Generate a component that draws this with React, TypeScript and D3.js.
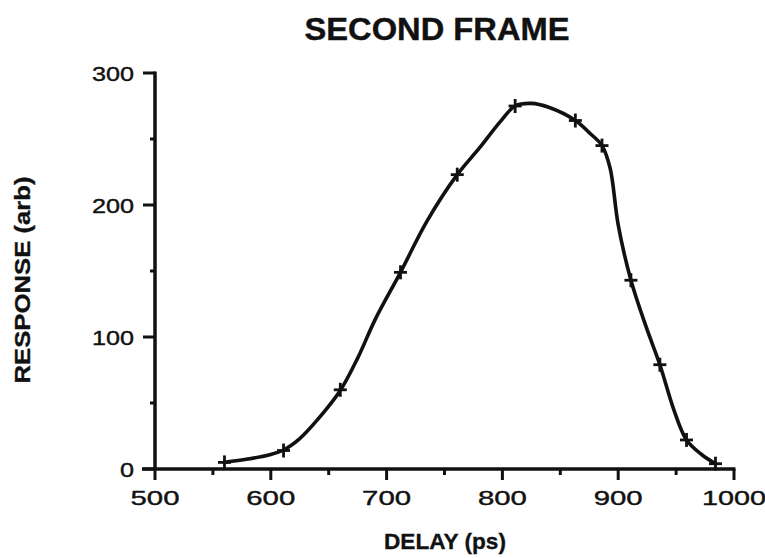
import React from 'react';
import * as d3 from 'd3';

const title = 'SECOND FRAME';
const xLabel = 'DELAY (ps)';
const yLabel = 'RESPONSE (arb)';

const xTicks = [500, 600, 700, 800, 900, 1000];
const xMinorTicks = [550, 650, 750, 850, 950];
const yTicks = [0, 100, 200, 300];
const yMinorTicks = [50, 150, 250];

// measured points (+ markers)
const markerDelay = [560, 611, 660, 712, 761, 811, 863, 886, 911, 936, 959, 984];
const markerResponse = [5, 14, 60, 149, 223, 275, 264, 245, 143, 79, 22, 4];

// traced response curve
const traceDelay = [560, 580, 600, 611, 625, 640, 660, 675, 690, 712, 735, 761, 780, 798, 811, 825, 840, 863, 876, 886, 893, 900, 911, 924, 936, 948, 959, 972, 984];
const traceResponse = [5, 7.5, 11, 14.4, 23, 37, 59.5, 84, 113, 149, 188, 223, 243, 263, 275, 277, 274, 264, 254, 245, 228, 185, 143, 108, 79, 45, 22, 11, 4];

export default function App() {
  const W = 765, H = 558;
  const x = d3.scaleLinear().domain([500, 1000]).range([155, 734]);
  const y = d3.scaleLinear().domain([0, 300]).range([469, 73]);
  const pts: [number, number][] = traceDelay.map((d, i) => [d, traceResponse[i]]);
  const line = d3.line<[number, number]>().x(d => x(d[0])).y(d => y(d[1])).curve(d3.curveCatmullRom.alpha(0.5));
  const font = '"Liberation Sans", Arial, Helvetica, sans-serif';
  const ink = '#111';
  return (
    <svg width={W} height={H} style={{ position: 'absolute', left: 0, top: 0, background: '#fff' }} fontFamily={font}>
      <rect x={0} y={0} width={W} height={H} fill="#fff" />
      <text x={437} y={40} textAnchor="middle" fontSize={31} fontWeight="bold" fill={ink} stroke={ink} strokeWidth={0.4} textLength={265} lengthAdjust="spacingAndGlyphs">{title}</text>
      {/* axes */}
      <line x1={x(500)} x2={x(500)} y1={y(0)} y2={y(300) - 1.5} stroke={ink} strokeWidth={3.5} />
      <line x1={x(500) - 13} x2={x(1000) + 1.5} y1={y(0)} y2={y(0)} stroke={ink} strokeWidth={3.5} />
      {yTicks.map(t => (
        <g key={'yt' + t}>
          <line x1={x(500) - 12} x2={x(500)} y1={y(t)} y2={y(t)} stroke={ink} strokeWidth={3} />
          <text x={134} y={y(t) + 7.5} textAnchor="end" fontSize={20} fill={ink} stroke={ink} strokeWidth={0.4} textLength={t === 0 ? 14 : 42} lengthAdjust="spacingAndGlyphs">{t}</text>
        </g>
      ))}
      {yMinorTicks.map(t => (
        <line key={'ym' + t} x1={x(500) - 5} x2={x(500)} y1={y(t)} y2={y(t)} stroke={ink} strokeWidth={3} />
      ))}
      {xTicks.map(t => (
        <g key={'xt' + t}>
          <line x1={x(t)} x2={x(t)} y1={y(0)} y2={y(0) + 11} stroke={ink} strokeWidth={3} />
          <text x={x(t)} y={505} textAnchor="middle" fontSize={21} fill={ink} stroke={ink} strokeWidth={0.4} textLength={t === 1000 ? 64 : 49} lengthAdjust="spacingAndGlyphs">{t}</text>
        </g>
      ))}
      {xMinorTicks.map(t => (
        <line key={'xm' + t} x1={x(t)} x2={x(t)} y1={y(0)} y2={y(0) + 6} stroke={ink} strokeWidth={3} />
      ))}
      <text x={445} y={549} textAnchor="middle" fontSize={22} fontWeight="bold" fill={ink} stroke={ink} strokeWidth={0.3} textLength={122} lengthAdjust="spacingAndGlyphs">{xLabel}</text>
      <text transform={`translate(30, 280) rotate(-90)`} textAnchor="middle" fontSize={22} fontWeight="bold" fill={ink} stroke={ink} strokeWidth={0.3} textLength={207} lengthAdjust="spacingAndGlyphs">{yLabel}</text>
      {/* curve */}
      <path d={line(pts) || ''} fill="none" stroke={ink} strokeWidth={3.6} strokeLinejoin="round" strokeLinecap="round" />
      {markerDelay.map((d, i) => (
        <g key={'m' + i} stroke={ink} strokeWidth={2.8}>
          <line x1={x(d) - 6.5} x2={x(d) + 6.5} y1={y(markerResponse[i])} y2={y(markerResponse[i])} />
          <line x1={x(d)} x2={x(d)} y1={y(markerResponse[i]) - 7} y2={y(markerResponse[i]) + 7} />
        </g>
      ))}
    </svg>
  );
}
